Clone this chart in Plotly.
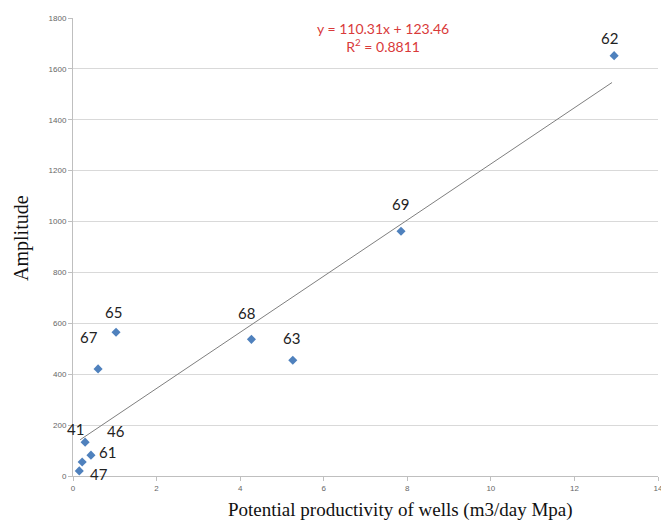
import plotly.graph_objects as go

wells = ["62", "69", "68", "63", "65", "67", "41", "61", "46", "47"]
productivity = [12.95, 7.85, 4.27, 5.26, 1.03, 0.6, 0.29, 0.43, 0.22, 0.15]
amplitude = [1652, 962, 537, 455, 565, 421, 133, 82, 55, 20]

# label offsets (pixels, right / down) relative to each point
label_dx = [-5, -1, -5, -1, -3, -9, -10, 17, 34, 20]
label_dy = [-18, -27, -26, -22, -20, -32, -13, -3, -31, 3]

slope, intercept = 110.31, 123.46
fit_x = [0.17, 12.9]
fit_y = [slope * v + intercept for v in fit_x]

x_ticks = [0, 2, 4, 6, 8, 10, 12, 14]
y_ticks = [0, 200, 400, 600, 800, 1000, 1200, 1400, 1600, 1800]

fig = go.Figure()
fig.add_trace(go.Scatter(x=fit_x, y=fit_y, mode="lines",
                         line=dict(color="#7f7f7f", width=1), hoverinfo="skip"))
fig.add_trace(go.Scatter(x=productivity, y=amplitude, mode="markers",
                         marker=dict(symbol="diamond", size=7, color="#4f81bd")))

for w, xv, yv, dx, dy in zip(wells, productivity, amplitude, label_dx, label_dy):
    fig.add_annotation(x=xv, y=yv, text=w, showarrow=False, xshift=dx, yshift=-dy,
                       font=dict(family="Lato, Open Sans, sans-serif", size=15, color="#222222"))

fig.add_annotation(x=0.53, y=0.957, xref="paper", yref="paper", yanchor="middle",
                   text="y = 110.31x + 123.46<br>R<sup>2</sup> = 0.8811",
                   showarrow=False, align="center",
                   font=dict(family="Lato, Open Sans, sans-serif", size=14, color="#d93a3a"))

fig.add_annotation(x=0.56, y=-0.074, xref="paper", yref="paper", yanchor="middle",
                   text="Potential productivity of wells (m3/day Mpa)", showarrow=False,
                   font=dict(family="Liberation Serif, Times New Roman, serif", size=19, color="#111111"))
fig.add_annotation(x=-0.087, y=0.52, xref="paper", yref="paper", textangle=-90,
                   xanchor="center", yanchor="middle",
                   text="Amplitude", showarrow=False,
                   font=dict(family="Liberation Serif, Times New Roman, serif", size=20, color="#111111"))

fig.update_layout(
    width=661, height=512,
    margin=dict(l=65, r=11, t=6, b=44),
    paper_bgcolor="white", plot_bgcolor="white",
    showlegend=False,
)
fig.update_xaxes(range=[0, 14], tickvals=x_ticks, showgrid=False, zeroline=False,
                 showline=True, linecolor="#bfbfbf", linewidth=1,
                 ticks="outside", ticklen=4, tickcolor="#bfbfbf",
                 tickfont=dict(family="Liberation Sans, Arial", size=8, color="#666666"))
fig.update_yaxes(range=[0, 1800], tickvals=y_ticks, showgrid=True, gridcolor="#d9d9d9",
                 zeroline=False, showline=True, linecolor="#bfbfbf", linewidth=1,
                 ticks="outside", ticklen=4, tickcolor="#bfbfbf",
                 tickfont=dict(family="Liberation Sans, Arial", size=8, color="#666666"))

fig.write_html("out.html")
